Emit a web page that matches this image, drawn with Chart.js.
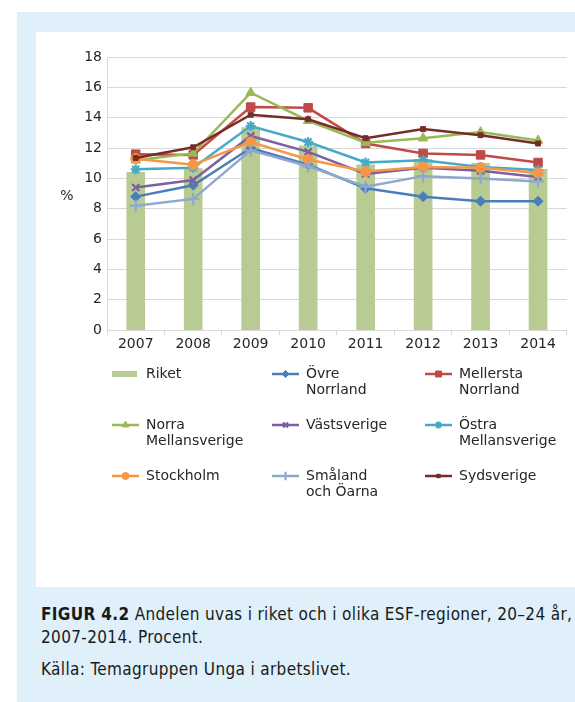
<!DOCTYPE html>
<html>
<head>
<meta charset="utf-8">
<script src="https://cdn.jsdelivr.net/npm/chart.js@4/dist/chart.umd.min.js"></script>
<style>
  html, body { margin: 0; padding: 0; background: #fff; }
  body { width: 575px; height: 702px; position: relative; overflow: hidden; }
  #outer { position: absolute; left: 17px; top: 12px; width: 558px; height: 690px; background: #dff0fa; }
  #panel { position: absolute; left: 36px; top: 32px; width: 539px; height: 555px; background: #fff; }
  #chart { display: block; }
  #caption { position: absolute; left: 41px; top: 603px; width: 540px;
    font-family: "Liberation Sans Narrow", "DejaVu Sans Condensed", sans-serif;
    font-size: 17px; line-height: 23px; letter-spacing: 0.35px; color: #1a1a1a; white-space: nowrap; }
  #caption p { margin: 0; }
  #caption p.src { margin-top: 9px; }
</style>
</head>
<body>
<div id="outer"></div>
<div id="panel"><canvas id="chart" width="539" height="555"></canvas></div>
<div id="caption">
  <p><b>FIGUR 4.2</b> Andelen uvas i riket och i olika ESF-regioner, 20–24 år,<br>2007-2014. Procent.</p>
  <p class="src">Källa: Temagruppen Unga i arbetslivet.</p>
</div>
<script>
var years = ['2007', '2008', '2009', '2010', '2011', '2012', '2013', '2014'];
var yTicks = [0, 2, 4, 6, 8, 10, 12, 14, 16, 18];

var riket      = [10.4, 10.65, 13.35, 12.15, 10.9, 11.25, 11.0, 10.6];
var ovreNorr   = [8.8, 9.55, 12.0, 10.9, 9.35, 8.8, 8.5, 8.5];
var mellNorr   = [11.6, 11.55, 14.7, 14.65, 12.3, 11.65, 11.55, 11.05];
var norraMell  = [11.2, 11.65, 15.65, 13.8, 12.35, 12.65, 13.05, 12.5];
var vastsv     = [9.4, 9.9, 12.8, 11.75, 10.3, 10.7, 10.5, 10.1];
var ostraMell  = [10.6, 10.7, 13.45, 12.4, 11.05, 11.2, 10.75, 10.55];
var stockholm  = [11.3, 10.9, 12.4, 11.25, 10.45, 10.75, 10.7, 10.35];
var smaland    = [8.2, 8.65, 11.85, 10.8, 9.45, 10.15, 10.0, 9.8];
var sydsv      = [11.35, 12.05, 14.2, 13.9, 12.65, 13.25, 12.85, 12.3];

var names = ['Riket', 'Övre Norrland', 'Mellersta Norrland', 'Norra Mellansverige',
  'Västsverige', 'Östra Mellansverige', 'Stockholm', 'Småland och Öarna', 'Sydsverige'];

var textColor = '#262626';
var gridColor = '#d9d9d9';

function line(i, data, color, style, radius, bw) {
  return {
    type: 'line', label: names[i], data: data, order: 20 - i,
    borderColor: color, backgroundColor: color, borderWidth: 2.5,
    pointStyle: style, pointRadius: radius, pointBorderWidth: bw,
    pointBackgroundColor: color, pointBorderColor: color, tension: 0
  };
}

var datasets = [
  { type: 'bar', label: names[0], data: riket, order: 100,
    backgroundColor: '#b7cb92', barThickness: 18 },
  line(1, ovreNorr, '#4a7ebb', 'rectRot', 5, 1),
  line(2, mellNorr, '#be4b48', 'rect', 6, 1),
  line(3, norraMell, '#98b954', 'triangle', 5.5, 1),
  line(4, vastsv, '#7d60a0', 'crossRot', 5, 2.2),
  line(5, ostraMell, '#46aac5', 'star', 5, 2.2),
  line(6, stockholm, '#f79646', 'circle', 5, 1),
  line(7, smaland, '#8ea8d0', 'cross', 6, 2.2),
  line(8, sydsv, '#772c2a', 'rect', 3.5, 1)
];

// legend + "%" label drawn on the canvas
var customLegend = {
  id: 'customLegend',
  afterDraw: function (chart) {
    var ctx = chart.ctx;
    ctx.save();
    ctx.font = '14px "DejaVu Sans"';
    ctx.fillStyle = textColor;
    ctx.textBaseline = 'middle';
    ctx.textAlign = 'center';
    ctx.fillText('%', 31, 164);
    ctx.textAlign = 'left';
    var colX = [76, 236, 389];
    var rowY = [342, 393, 444];
    chart.data.datasets.forEach(function (ds, i) {
      var x = colX[i % 3], y = rowY[Math.floor(i / 3)];
      if (ds.type === 'bar') {
        ctx.fillStyle = ds.backgroundColor;
        ctx.fillRect(x, y - 3, 25, 6);
      } else {
        ctx.strokeStyle = ds.borderColor;
        ctx.lineWidth = 2.5;
        ctx.beginPath();
        ctx.moveTo(x, y);
        ctx.lineTo(x + 27, y);
        ctx.stroke();
        ctx.fillStyle = ds.borderColor;
        ctx.lineWidth = ds.pointBorderWidth;
        Chart.helpers.drawPoint(ctx, {
          pointStyle: ds.pointStyle, radius: ds.pointRadius * 0.7,
          borderWidth: ds.pointBorderWidth
        }, x + 13.5, y);
      }
      var label = ds.label;
      var sp = label.indexOf(' ');
      var lines = sp > 0 ? [label.slice(0, sp), label.slice(sp + 1)] : [label];
      ctx.fillStyle = textColor;
      lines.forEach(function (t, k) {
        ctx.fillText(t, x + 34, y + k * 16.5);
      });
    });
    ctx.restore();
  }
};

Chart.defaults.font.family = '"DejaVu Sans", Verdana, sans-serif';
Chart.defaults.font.size = 14;
Chart.defaults.color = textColor;

new Chart(document.getElementById('chart').getContext('2d'), {
  type: 'bar',
  data: { labels: years, datasets: datasets },
  options: {
    responsive: false,
    animation: false,
    layout: { padding: { left: 0, right: 3, top: 25, bottom: 233 } },
    plugins: { legend: { display: false }, tooltip: { enabled: false } },
    scales: {
      x: {
        offset: true,
        grid: { offset: true, drawOnChartArea: false, drawTicks: true, tickLength: 5, color: gridColor },
        border: { color: gridColor },
        ticks: { padding: 1, color: textColor }
      },
      y: {
        min: 0, max: 18,
        afterFit: function (s) { s.width = 71; },
        afterBuildTicks: function (s) { s.ticks = yTicks.map(function (v) { return { value: v }; }); },
        grid: { color: gridColor, drawTicks: false },
        border: { color: gridColor },
        ticks: { padding: 5, color: textColor }
      }
    }
  },
  plugins: [customLegend]
});
</script>
</body>
</html>
